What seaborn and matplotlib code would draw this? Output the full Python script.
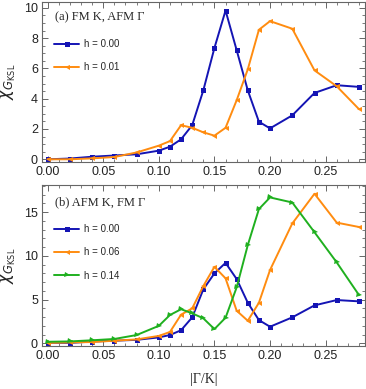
import pandas as pd
import matplotlib
matplotlib.use("Agg")
import matplotlib.pyplot as plt
import seaborn as sns
from matplotlib.ticker import MultipleLocator

# Data
gamma = [0.00, 0.02, 0.04, 0.06, 0.08, 0.10, 0.11, 0.12, 0.13, 0.14,
         0.15, 0.16, 0.17, 0.18, 0.19, 0.20, 0.22, 0.24, 0.26, 0.28]

# (a) FM K, AFM Gamma
a_h000 = [0.0, 0.05, 0.17, 0.25, 0.33, 0.57, 0.83, 1.32, 2.25, 4.55,
          7.35, 9.82, 7.2, 4.55, 2.48, 2.04, 2.9, 4.38, 4.89, 4.78]
a_h001 = [0.0, 0.0, 0.06, 0.15, 0.45, 0.9, 1.2, 2.25, 2.08, 1.78,
          1.56, 2.08, 3.9, 5.94, 8.55, 9.12, 8.62, 5.87, 4.82, 3.31]

# (b) AFM K, FM Gamma
b_h000 = [0.05, 0.05, 0.2, 0.3, 0.4, 0.68, 0.95, 1.5, 2.97, 6.17,
          8.0, 9.2, 7.35, 4.64, 2.66, 1.9, 2.97, 4.34, 4.95, 4.8]
b_h006 = [0.05, 0.1, 0.15, 0.3, 0.45, 0.85, 1.3, 3.28, 4.0, 6.55,
          8.75, 7.43, 3.73, 2.58, 4.64, 8.38, 13.7, 17.1, 13.8, 13.3]
b_h014 = [0.18, 0.22, 0.35, 0.5, 0.95, 2.0, 3.24, 3.9, 3.43, 2.86,
          1.63, 2.93, 6.4, 11.23, 15.35, 16.68, 16.1, 12.7, 9.25, 5.52]

panel_a = {"h = 0.00": a_h000, "h = 0.01": a_h001}
panel_b = {"h = 0.00": b_h000, "h = 0.06": b_h006, "h = 0.14": b_h014}

blue, orange, green = "#1414b4", "#ff8c10", "#1fb01f"

sns.set_style("ticks")
plt.rcParams["font.family"] = ["Liberation Sans", "DejaVu Sans"]
plt.rcParams["mathtext.fontset"] = "dejavusans"


def long_df(series):
    rows = []
    for name, vals in series.items():
        for g, v in zip(gamma, vals):
            rows.append({"gamma": g, "chi": v, "h": name})
    return pd.DataFrame(rows)


def draw(ax, series, colors, marks, title, ylim, ymaj, ymin_loc, title_y, leg_y):
    df = long_df(series)
    names = list(series.keys())
    sns.lineplot(data=df, x="gamma", y="chi", hue="h", style="h",
                 hue_order=names, style_order=names,
                 palette=dict(zip(names, colors)),
                 markers=dict(zip(names, marks)), dashes=False,
                 linewidth=1.4, markersize=3.6, markeredgewidth=0,
                 ax=ax)
    leg = ax.get_legend()
    handles = leg.legend_handles
    labels = [t.get_text() for t in leg.texts]
    ax.legend(handles, labels, frameon=False, loc="upper left",
              bbox_to_anchor=(0.025, leg_y), fontsize=7,
              handlelength=2.6, labelspacing=1.35, handletextpad=0.45,
              borderaxespad=0)
    ax.text(0.04, title_y, title, transform=ax.transAxes, family="Liberation Serif",
            fontsize=9, va="center", ha="left")
    ax.set_xlim(-0.005, 0.285)
    ax.set_ylim(*ylim)
    ax.xaxis.set_major_locator(MultipleLocator(0.05))
    ax.xaxis.set_minor_locator(MultipleLocator(0.01))
    ax.yaxis.set_major_locator(MultipleLocator(ymaj))
    ax.yaxis.set_minor_locator(MultipleLocator(ymin_loc))
    ax.xaxis.set_major_formatter(plt.FuncFormatter(lambda v, p: f"{v:.2f}"))
    ax.tick_params(which="both", direction="in", top=True, right=True,
                   color="#666666", labelsize=9, labelcolor="#222222")
    ax.tick_params(which="major", length=4, width=0.7, pad=3)
    ax.tick_params(which="minor", length=2, width=0.6)
    for s in ax.spines.values():
        s.set_color("#666666")
        s.set_linewidth(0.8)
    ax.set_ylabel(r"$\chi_{G_{\mathrm{KSL}}}$", fontsize=12, labelpad=4)
    ax.set_xlabel("")


fig = plt.figure(figsize=(3.66, 3.89), dpi=100)
ax1 = fig.add_axes([0.115, 0.5835, 0.881, 0.412])
ax2 = fig.add_axes([0.115, 0.1113, 0.881, 0.4131])

draw(ax1, panel_a, [blue, orange], ["s", "<"], "(a) FM K, AFM \u0393",
     (-0.18, 10.4), 2, 0.5, 0.905, 0.79)
draw(ax2, panel_b, [blue, orange, green], ["s", "<", ">"],
     "(b) AFM K, FM \u0393", (-0.27, 18.1), 5, 1, 0.89, 0.78)
ax2.set_xlabel("|\u0393/K|", family="Liberation Serif", fontsize=10, labelpad=8)

fig.savefig("out.png", dpi=100)
